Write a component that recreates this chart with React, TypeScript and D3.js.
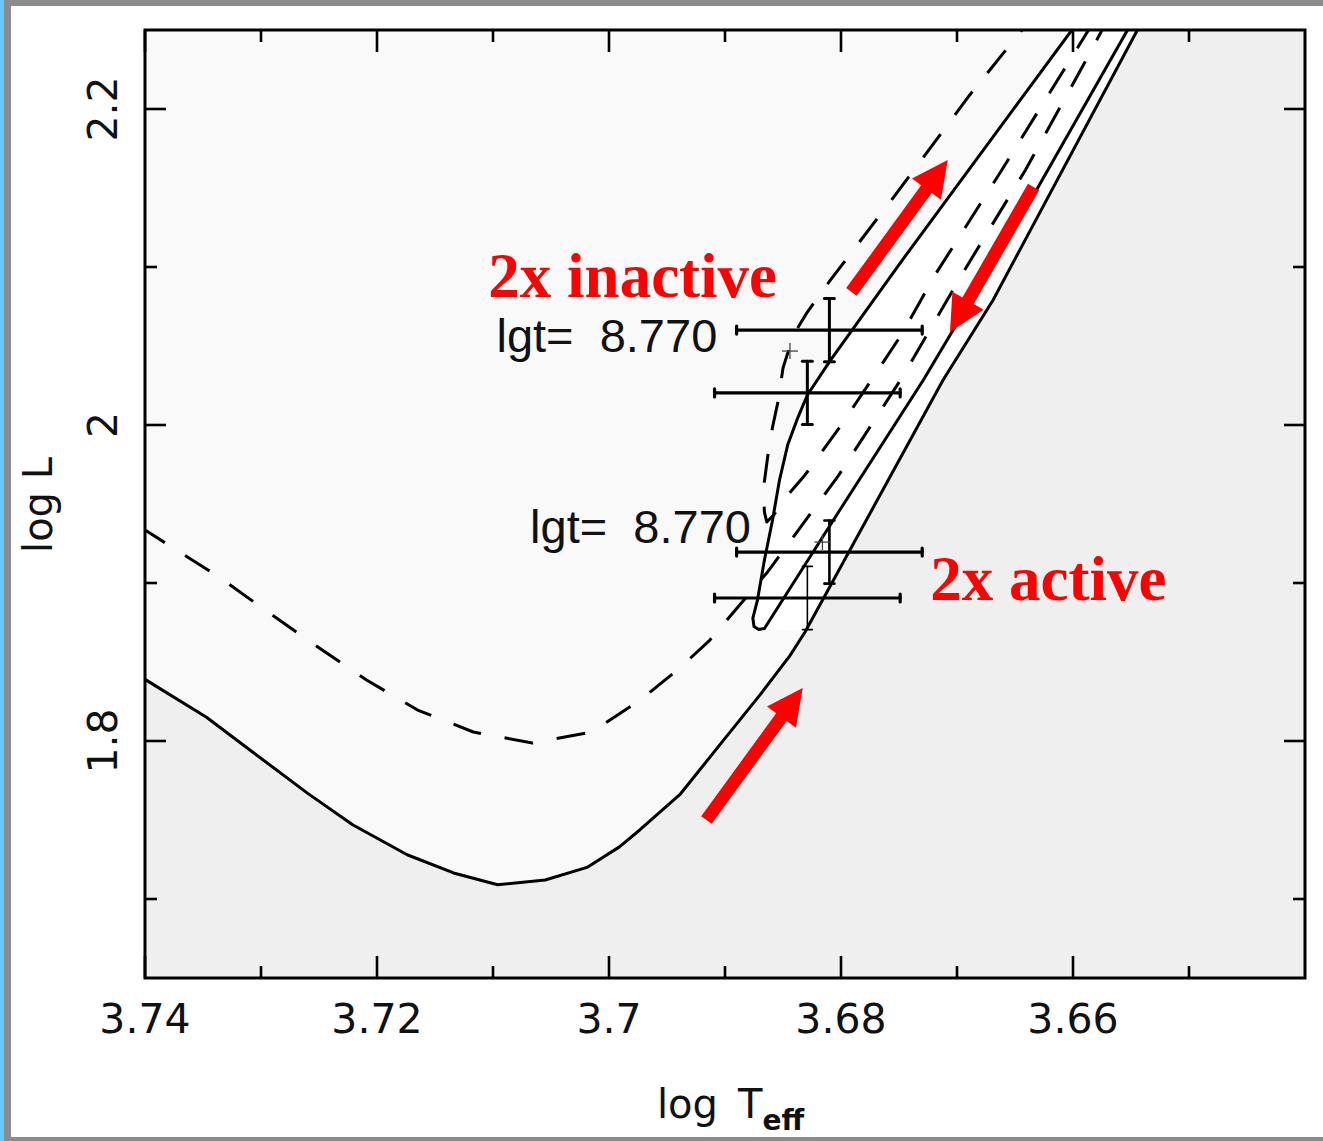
import React from "react";
import * as d3 from "d3";

// ---------- data (log Teff, log L) ----------
const xTicksMajor = [3.74, 3.72, 3.7, 3.68, 3.66];
const xTicksMinor = [3.73, 3.71, 3.69, 3.67, 3.65];
const yTicksMajor = [1.8, 2.0, 2.2];
const yTicksMinor = [1.7, 1.9, 2.1];
const xTickLabels = ["3.74", "3.72", "3.7", "3.68", "3.66"];
const yTickLabels = ["1.8", "2", "2.2"];

// solid track: rise from the left, minimum, and red-giant ascent (outer right line)
const trackARise: [number, number][] = [
  [3.7404, 1.8415], [3.74, 1.839], [3.7347, 1.815], [3.7309, 1.794], [3.726, 1.767], [3.7221, 1.747],
  [3.7174, 1.728], [3.7134, 1.7165], [3.7096, 1.709], [3.7055, 1.712], [3.7019, 1.72],
  [3.6991, 1.733], [3.6973, 1.744], [3.6939, 1.766], [3.6904, 1.798], [3.687, 1.829],
  [3.6844, 1.854], [3.6831, 1.869], [3.6712, 2.0285], [3.6669, 2.079], [3.6535, 2.263],
];
// solid track: descent (inner right line), hook, and band left boundary
const trackALoop: [number, number][] = [
  [3.6544, 2.263], [3.6553, 2.25], [3.663, 2.1506], [3.6729, 2.0285], [3.6801, 1.9462],
  [3.6866, 1.8712], [3.6871, 1.8706], [3.6875, 1.8725], [3.6876, 1.8778], [3.6872, 1.8892],
  [3.6866, 1.9146], [3.6859, 1.9399], [3.6853, 1.9652], [3.6846, 1.9873], [3.6838, 2.0032],
  [3.6829, 2.019], [3.6809, 2.0411], [3.6749, 2.1025], [3.6601, 2.25], [3.6588, 2.2627],
];
// dashed track
const trackB: [number, number][] = [
  [3.7404, 1.9354], [3.7335, 1.9032], [3.7294, 1.8816], [3.7251, 1.8595], [3.7209, 1.8386],
  [3.7165, 1.8196], [3.7117, 1.8057], [3.7066, 1.7987], [3.7015, 1.8057], [3.6973, 1.8259],
  [3.6939, 1.8462], [3.6913, 1.8639], [3.6864, 1.9063], [3.6803, 1.9671], [3.6747, 2.0304],
  [3.6695, 2.0962], [3.6641, 2.1614], [3.6592, 2.2266], [3.6568, 2.2595], [3.6577, 2.2614],
  [3.6609, 2.2234], [3.6663, 2.1595], [3.6719, 2.0949], [3.6747, 2.0582], [3.6772, 2.0304],
  [3.6801, 1.9987], [3.6831, 1.9684], [3.6848, 1.9538], [3.6858, 1.943], [3.6864, 1.9386],
  [3.6866, 1.9449], [3.6867, 1.9589], [3.6863, 1.981], [3.6859, 1.9987], [3.6854, 2.0158],
  [3.685, 2.0361], [3.6841, 2.057], [3.6829, 2.0715], [3.6809, 2.0918], [3.6752, 2.1468],
  [3.6689, 2.2089], [3.6644, 2.25], [3.6631, 2.2627],
];

// observed stars
const starT = [3.681, 3.6829, 3.681, 3.6829];
const starL = [2.0601, 2.0203, 1.9196, 1.8905];
const starXErr = [0.008, 0.008, 0.008, 0.008];
const starYErr = [0.02, 0.02, 0.02, 0.02];
const starVW = [3, 3, 2.6, 1.6];

// lgt = 8.770 markers
const markT = [3.6844, 3.6816];
const markL = [2.0468, 1.9259];
const markLabels = ["lgt=  8.770", "lgt=  8.770"];
const markLabelT = [3.7097, 3.7068];
const markLabelL = [2.0462, 1.9253];

// red annotations
const noteTexts = ["2x inactive", "2x active"];
const noteT = [3.7104, 3.6723];
const noteL = [2.081, 1.8892];
const arrowTail: [number, number][] = [[3.6791, 2.0842], [3.6634, 2.1506], [3.6916, 1.75]];
const arrowTip: [number, number][] = [[3.6708, 2.1677], [3.6706, 2.0589], [3.6833, 1.8335]];

// ---------- layout ----------
const W = 1323, H = 1141;
const PL = 145, PR = 1305, PT = 30, PB = 978;

export default function App() {
  const x = d3.scaleLinear().domain([3.74, 3.64]).range([PL, PR]);
  const y = d3.scaleLinear().domain([1.65, 2.25]).range([PB, PT]);
  const line = d3.line<[number, number]>().x((d) => x(d[0])).y((d) => y(d[1]));

  const upperFill: [number, number][] = [...trackARise, [3.745, 2.263], [3.745, 1.8415]];
  const bandFill: [number, number][] = [...trackARise.slice(17), ...trackALoop.slice(5).reverse()];

  const arrow = (t: [number, number], h: [number, number]) => {
    const x0 = x(t[0]), y0 = y(t[1]), x1 = x(h[0]), y1 = y(h[1]);
    const len = Math.hypot(x1 - x0, y1 - y0);
    const ux = (x1 - x0) / len, uy = (y1 - y0) / len;
    const nx = -uy, ny = ux;
    const sw = 6.5, hw = 18, hl = 36;
    const bx = x1 - ux * hl, by = y1 - uy * hl;
    const pts = [
      [x0 + nx * sw, y0 + ny * sw],
      [bx + nx * sw, by + ny * sw],
      [bx + nx * hw, by + ny * hw],
      [x1, y1],
      [bx - nx * hw, by - ny * hw],
      [bx - nx * sw, by - ny * sw],
      [x0 - nx * sw, y0 - ny * sw],
    ];
    return "M" + pts.map((p) => p[0].toFixed(1) + "," + p[1].toFixed(1)).join("L") + "Z";
  };

  const axisFont = "'DejaVu Sans', sans-serif";

  return (
    <svg width={W} height={H} style={{ position: "absolute", left: 0, top: 0, background: "#fff" }}>
      <defs>
        <clipPath id="plotclip">
          <rect x={PL} y={PT} width={PR - PL} height={PB - PT} />
        </clipPath>
      </defs>
      <rect x={0} y={0} width={W} height={H} fill="#ffffff" />
      {/* window frame */}
      <rect x={0} y={0} width={W} height={6} fill="#8c8c8c" />
      <rect x={0} y={H - 4} width={W} height={4} fill="#8c8c8c" />
      <rect x={4} y={0} width={7} height={H} fill="#8c8c8c" />
      <rect x={0} y={0} width={4} height={H} fill="#66c6ff" />

      {/* plot area */}
      <rect x={PL} y={PT} width={PR - PL} height={PB - PT} fill="#efefef" />
      <g clipPath="url(#plotclip)">
        <path d={line(upperFill) + "Z"} fill="#f9f9f9" />
        <path d={line(bandFill) + "Z"} fill="#ffffff" />
        <path d={line(trackARise) ?? ""} fill="none" stroke="#000" strokeWidth={3} strokeLinejoin="round" />
        <path d={line(trackALoop) ?? ""} fill="none" stroke="#000" strokeWidth={3} strokeLinejoin="round" />
        <path d={line(trackB) ?? ""} fill="none" stroke="#000" strokeWidth={3} strokeDasharray="29 24" strokeLinejoin="round" />

        {/* error bars */}
        {starT.map((t, i) => {
          const cx = x(t), cy = y(starL[i]);
          const xl = x(t + starXErr[i]), xr = x(t - starXErr[i]);
          const yt = y(starL[i] + starYErr[i]), yb = y(starL[i] - starYErr[i]);
          return (
            <g key={"eb" + i} stroke="#000" strokeLinecap="round">
              <line x1={xl} x2={xr} y1={cy} y2={cy} strokeWidth={3.2} />
              <line x1={xl} x2={xl} y1={cy - 4} y2={cy + 4} strokeWidth={3.2} />
              <line x1={xr} x2={xr} y1={cy - 4} y2={cy + 4} strokeWidth={3.2} />
              <line x1={cx} x2={cx} y1={yt} y2={yb} strokeWidth={starVW[i]} />
              <line x1={cx - 5} x2={cx + 5} y1={yt} y2={yt} strokeWidth={starVW[i]} />
              <line x1={cx - 5} x2={cx + 5} y1={yb} y2={yb} strokeWidth={starVW[i]} />
            </g>
          );
        })}
        {markT.map((t, i) => (
          <g key={"mk" + i} stroke="#444" strokeWidth={1.3}>
            <line x1={x(t) - 8} x2={x(t) + 8} y1={y(markL[i])} y2={y(markL[i])} />
            <line x1={x(t)} x2={x(t)} y1={y(markL[i]) - 8} y2={y(markL[i]) + 8} />
          </g>
        ))}
      </g>

      {/* lgt labels */}
      {markLabels.map((s, i) => (
        <text
          key={"ml" + i}
          x={x(markLabelT[i])}
          y={y(markLabelL[i])}
          fontFamily="'Liberation Sans', Arial, sans-serif"
          fontSize={47}
          fill="#111"
          style={{ whiteSpace: "pre" }}
        >
          {s}
        </text>
      ))}

      {/* red notes */}
      {noteTexts.map((s, i) => (
        <text
          key={"nt" + i}
          x={x(noteT[i])}
          y={y(noteL[i])}
          fontFamily="'Liberation Serif', 'Times New Roman', serif"
          fontWeight="bold"
          fontSize={63}
          fill="#ff0000"
        >
          {s}
        </text>
      ))}
      {arrowTail.map((t, i) => (
        <path key={"ar" + i} d={arrow(t, arrowTip[i])} fill="#ff0000" />
      ))}

      {/* frame */}
      <rect x={PL} y={PT} width={PR - PL} height={PB - PT} fill="none" stroke="#000" strokeWidth={3} />

      {/* ticks */}
      <g stroke="#000" strokeWidth={2.6}>
        {xTicksMajor.map((t) => (
          <g key={"xM" + t}>
            <line x1={x(t)} x2={x(t)} y1={PB} y2={PB - 22} />
            <line x1={x(t)} x2={x(t)} y1={PT} y2={PT + 22} />
          </g>
        ))}
        {xTicksMinor.map((t) => (
          <g key={"xm" + t}>
            <line x1={x(t)} x2={x(t)} y1={PB} y2={PB - 12} />
            <line x1={x(t)} x2={x(t)} y1={PT} y2={PT + 12} />
          </g>
        ))}
        {yTicksMajor.map((t) => (
          <g key={"yM" + t}>
            <line x1={PL} x2={PL + 21} y1={y(t)} y2={y(t)} />
            <line x1={PR} x2={PR - 21} y1={y(t)} y2={y(t)} />
          </g>
        ))}
        {yTicksMinor.map((t) => (
          <g key={"ym" + t}>
            <line x1={PL} x2={PL + 12} y1={y(t)} y2={y(t)} />
            <line x1={PR} x2={PR - 12} y1={y(t)} y2={y(t)} />
          </g>
        ))}
      </g>

      {/* tick labels */}
      {xTicksMajor.map((t, i) => (
        <text key={"xl" + t} x={x(t)} y={1033} textAnchor="middle" fontFamily={axisFont} fontSize={41} fill="#111">
          {xTickLabels[i]}
        </text>
      ))}
      {yTicksMajor.map((t, i) => (
        <text
          key={"yl" + t}
          transform={`translate(117,${y(t)}) rotate(-90)`}
          textAnchor="middle"
          fontFamily={axisFont}
          fontSize={41}
          fill="#111"
        >
          {yTickLabels[i]}
        </text>
      ))}

      {/* axis titles */}
      <text transform="translate(52,505) rotate(-90)" textAnchor="middle" fontFamily={axisFont} fontSize={40} fill="#111">
        log L
      </text>
      <text x={657} y={1118} fontFamily={axisFont} fontSize={40} fill="#111">
        <tspan>log</tspan>
        <tspan dx={20}>T</tspan>
        <tspan dx={0} dy={12} fontSize={28} fontWeight="bold">eff</tspan>
      </text>
    </svg>
  );
}
